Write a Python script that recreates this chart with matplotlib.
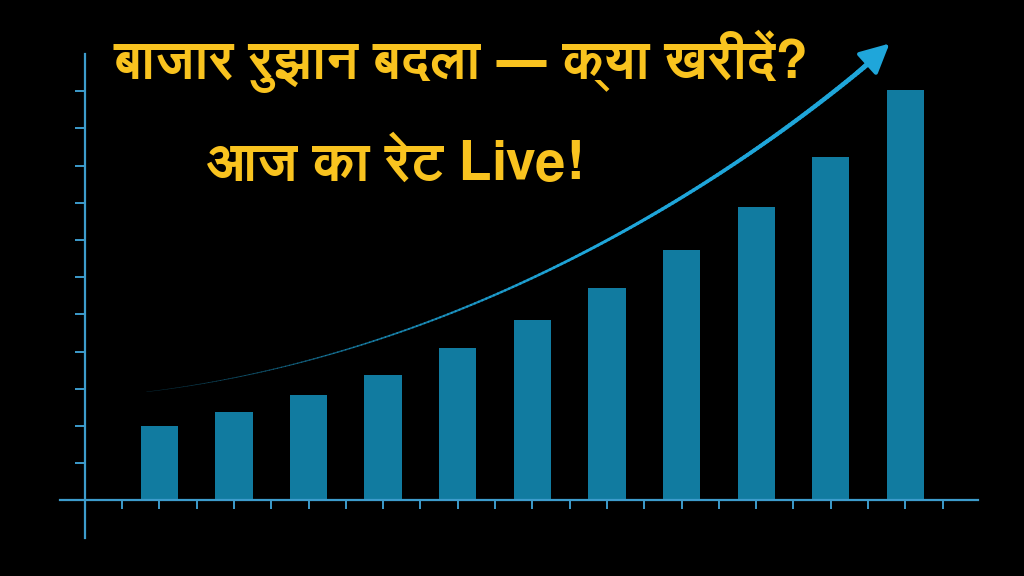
import numpy as np
import matplotlib
matplotlib.use('Agg')
import matplotlib.pyplot as plt
from matplotlib import font_manager
from matplotlib.ft2font import FT2Font
from matplotlib.collections import LineCollection

# find an installed font that has Devanagari glyphs
deva = None
for f in font_manager.fontManager.ttflist:
    try:
        if 0x092C in FT2Font(f.fname).get_charmap():
            deva = f.name
            if 'Bold' in f.fname or f.weight in ('bold', 700):
                break
    except Exception:
        pass
families = ([deva] if deva else []) + ['DejaVu Sans']

# data
positions = [1, 3, 5, 7, 9, 11, 13, 15, 17, 19, 21]
values = [2.0, 2.37, 2.83, 3.37, 4.11, 4.84, 5.70, 6.72, 7.90, 9.24, 11.02]
xticks = list(range(0, 23))
yticks = list(range(1, 12))
title1 = 'बाजार रुझान बदला — क्या खरीदें?'
title2 = 'आज का रेट Live!'

# trend arrow control points (cubic bezier) and tip
trend_ctrl = [(0.66, 2.92), (8.0, 3.8), (15.0, 7.5), (20.2, 11.9)]
arrow_tip = (20.63, 12.33)

bar_color = '#117ba0'
axis_color = '#3d9ccc'
arrow_color = '#1fa6da'
text_color = '#f9c31f'

fig = plt.figure(figsize=(10.24, 5.76), dpi=100, facecolor='black')
ax = fig.add_axes([0, 0, 1, 1], facecolor='black')
ax.set_xlim(-3.27, 24.18)
ax.set_ylim(-2.03, 13.45)

ax.bar(positions, values, width=1.0, color=bar_color, zorder=2)

# axes lines
for s in ['top', 'right']:
    ax.spines[s].set_visible(False)
ax.spines['left'].set_position(('data', -1))
ax.spines['bottom'].set_position(('data', 0))
ax.spines['left'].set_bounds(-1, 12)
ax.spines['bottom'].set_bounds(-1.66, 22.95)
for s in ['left', 'bottom']:
    ax.spines[s].set_color(axis_color)
    ax.spines[s].set_linewidth(1.6)
ax.set_xticks(xticks)
ax.set_yticks(yticks)
ax.set_xticklabels([])
ax.set_yticklabels([])
ax.tick_params(axis='x', direction='out', length=6.5, width=1.4, color=axis_color)
ax.tick_params(axis='y', direction='out', length=7, width=1.4, color=axis_color)

# tapered trend curve
t = np.linspace(0, 1, 200)[:, None]
P = np.array(trend_ctrl)
curve = ((1 - t) ** 3) * P[0] + 3 * ((1 - t) ** 2) * t * P[1] + 3 * (1 - t) * t ** 2 * P[2] + t ** 3 * P[3]
segs = np.stack([curve[:-1], curve[1:]], axis=1)
lw = np.linspace(0.3, 3.4, len(segs))
alphas = np.clip(np.linspace(0.25, 1.6, len(segs)), 0, 1)
cols = [matplotlib.colors.to_rgba(arrow_color, a) for a in alphas]
ax.add_collection(LineCollection(segs, linewidths=lw, colors=cols, capstyle='round', zorder=3))
ax.annotate('', xy=arrow_tip, xytext=tuple(curve[-8]),
            arrowprops=dict(arrowstyle='-|>,head_length=0.9,head_width=0.45',
                            color=arrow_color, lw=3, mutation_scale=20), zorder=4)

fig.text(0.45, 0.893, title1, color=text_color, fontsize=38, fontweight='bold',
         ha='center', va='center', family=families)
fig.text(0.386, 0.713, title2, color=text_color, fontsize=39, fontweight='bold',
         ha='center', va='center', family=families)

fig.savefig('out.png', dpi=100, facecolor='black')
